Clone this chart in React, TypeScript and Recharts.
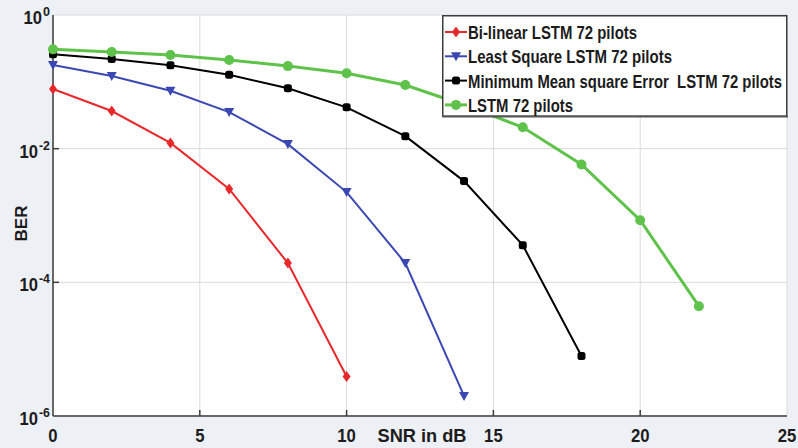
import { LineChart, Line, XAxis, YAxis, CartesianGrid, Legend } from 'recharts'

// SNR (dB) sample points
const snr = [0, 2, 4, 6, 8, 10, 12, 14, 16, 18, 20, 22]

// BER values
const bilinear = [0.078, 0.0366, 0.0122, 0.0025, 1.94e-4, 3.9e-6]
const leastSquare = [0.178, 0.122, 0.0736, 0.0353, 0.0117, 0.00224, 1.94e-4, 2e-6]
const mmse = [0.258, 0.22, 0.177, 0.128, 0.08, 0.0415, 0.0154, 0.00327, 3.6e-4, 7.9e-6]
const lstm = [0.306, 0.279, 0.252, 0.212, 0.172, 0.134, 0.0895, 0.045, 0.0209, 0.0058, 8.5e-4, 4.4e-5]

const xTicks = [0, 5, 10, 15, 20, 25]
const yTicks = [1e-6, 1e-4, 1e-2, 1]

const legendNames = [
  'Bi-linear LSTM 72 pilots',
  'Least Square LSTM 72 pilots',
  'Minimum Mean square Error  LSTM 72 pilots',
  'LSTM 72 pilots',
]
const legendWidths = [169, 204, 314, 105]

const RED = '#e8282b'
const BLUE = '#3b48b4'
const BLACK = '#000000'
const GREEN = '#5fc24a'

const FONT = "'Liberation Sans', Arial, sans-serif"
const FRAME = '#3c3c3c'
const TEXT = '#1c1c1c'

const data = snr.map((x, i) => ({
  snr: x,
  bilinear: bilinear[i],
  leastSquare: leastSquare[i],
  mmse: mmse[i],
  lstm: lstm[i],
}))

type Marker = 'diamond' | 'triangle' | 'square' | 'circle'

function markerShape(kind: Marker, cx: number, cy: number, color: string, key?: string | number) {
  if (kind === 'diamond') {
    return <polygon key={key} points={`${cx},${cy - 5.5} ${cx + 4},${cy} ${cx},${cy + 5.5} ${cx - 4},${cy}`} fill={color} />
  }
  if (kind === 'triangle') {
    return <polygon key={key} points={`${cx - 5},${cy - 4} ${cx + 5},${cy - 4} ${cx},${cy + 5}`} fill={color} />
  }
  if (kind === 'square') {
    return <rect key={key} x={cx - 4} y={cy - 4} width={8} height={8} rx={2.5} fill={color} />
  }
  return <circle key={key} cx={cx} cy={cy} r={5} fill={color} />
}

const series: { key: string; color: string; marker: Marker; width: number }[] = [
  { key: 'bilinear', color: RED, marker: 'diamond', width: 2 },
  { key: 'leastSquare', color: BLUE, marker: 'triangle', width: 2 },
  { key: 'mmse', color: BLACK, marker: 'square', width: 2 },
  { key: 'lstm', color: GREEN, marker: 'circle', width: 3 },
]

const makeDot = (kind: Marker, color: string) => (props: any) => {
  const { cx, cy, index } = props
  if (cx == null || cy == null || Number.isNaN(cy)) return <g key={index} />
  return markerShape(kind, cx, cy, color, index)
}

const BottomTick = (props: any) => {
  const { x, y, payload } = props
  const label = String(payload.value)
  const inner = payload.value !== 0 && payload.value !== 25
  return (
    <g>
      {inner && <line x1={x} y1={y} x2={x} y2={y - 6} stroke={FRAME} strokeWidth={1.5} />}
      <text
        x={x}
        y={y + 26}
        textAnchor="middle"
        fontFamily={FONT}
        fontWeight="bold"
        fontSize={19}
        fill={TEXT}
        textLength={label.length * 9.3}
        lengthAdjust="spacingAndGlyphs"
      >
        {label}
      </text>
    </g>
  )
}

const TopTick = (props: any) => {
  const { x, y, payload } = props
  if (payload.value === 0 || payload.value === 25) return <g />
  return <line x1={x} y1={y} x2={x} y2={y + 6} stroke={FRAME} strokeWidth={1.5} />
}

const LeftTick = (props: any) => {
  const { x, y, payload } = props
  const exp = String(Math.round(Math.log10(payload.value)))
  const expW = exp.length > 1 ? 11 : 7
  const inner = payload.value !== 1 && payload.value !== 1e-6
  const right = x - 3
  return (
    <g>
      {inner && <line x1={x} y1={y} x2={x + 6} y2={y} stroke={FRAME} strokeWidth={1.5} />}
      <text
        x={right - expW - 1}
        y={y + 9}
        textAnchor="end"
        fontFamily={FONT}
        fontWeight="bold"
        fontSize={19}
        fill={TEXT}
        textLength={18.5}
        lengthAdjust="spacingAndGlyphs"
      >
        10
      </text>
      <text
        x={right - expW}
        y={y + 1}
        textAnchor="start"
        fontFamily={FONT}
        fontWeight="bold"
        fontSize={12.5}
        fill={TEXT}
        textLength={expW}
        lengthAdjust="spacingAndGlyphs"
      >
        {exp}
      </text>
    </g>
  )
}

const RightTick = (props: any) => {
  const { x, y, payload } = props
  if (payload.value === 1 || payload.value === 1e-6) return <g />
  return <line x1={x} y1={y} x2={x - 6} y2={y} stroke={FRAME} strokeWidth={1.5} />
}

const LegendBox = () => (
  <svg width={346} height={103} style={{ display: 'block' }}>
    <rect x={0.75} y={0.75} width={344} height={100.5} fill="#fff" stroke={FRAME} strokeWidth={1.5} />
    <line x1={0} y1={101.5} x2={346} y2={101.5} stroke="#555" strokeWidth={2} />
    {series.map((s, i) => {
      const cy = 17 + i * 24.3
      return (
        <g key={s.key}>
          <line x1={3} y1={cy} x2={25} y2={cy} stroke={s.color} strokeWidth={s.width} />
          {markerShape(s.marker, 14, cy, s.color)}
          <text
            x={26}
            y={cy + 7}
            fontFamily={FONT}
            fontWeight="bold"
            fontSize={19}
            fill={TEXT}
            textLength={legendWidths[i]}
            lengthAdjust="spacingAndGlyphs"
            style={{ whiteSpace: 'pre' }}
          >
            {legendNames[i]}
          </text>
        </g>
      )
    })}
  </svg>
)

export default function App() {
  return (
    <div style={{ position: 'absolute', left: 0, top: 0, width: 798, height: 448, background: '#edf0f4' }}>
      <LineChart width={798} height={448} data={data} margin={{ top: 15, right: 11, bottom: 0, left: 0 }}>
        <CartesianGrid stroke="#dadada" strokeWidth={1} fill="#ffffff" />
        <XAxis
          dataKey="snr"
          type="number"
          domain={[0, 25]}
          ticks={xTicks}
          interval={0}
          height={32}
          tickSize={0}
          tickMargin={0}
          tickLine={false}
          axisLine={{ stroke: FRAME, strokeWidth: 1.5 }}
          tick={<BottomTick />}
          label={(p: any) => (
            <text
              x={p.viewBox.x + p.viewBox.width / 2 + 2}
              y={p.viewBox.y + 26}
              textAnchor="middle"
              fontFamily={FONT}
              fontWeight="bold"
              fontSize={19}
              fill={TEXT}
              textLength={89}
              lengthAdjust="spacingAndGlyphs"
            >
              SNR in dB
            </text>
          )}
        />
        <XAxis
          xAxisId="top"
          orientation="top"
          type="number"
          domain={[0, 25]}
          ticks={xTicks}
          interval={0}
          height={0}
          tickSize={0}
          tickMargin={0}
          tickLine={false}
          axisLine={{ stroke: FRAME, strokeWidth: 1.5 }}
          tick={<TopTick />}
        />
        <YAxis
          scale="log"
          type="number"
          domain={[1e-6, 1]}
          allowDataOverflow
          ticks={yTicks}
          interval={0}
          width={53}
          tickSize={0}
          tickMargin={0}
          tickLine={false}
          axisLine={{ stroke: FRAME, strokeWidth: 1.5 }}
          tick={<LeftTick />}
          label={(p: any) => (
            <text
              x={21}
              y={p.viewBox.y + p.viewBox.height / 2 + 8}
              transform={`rotate(-90 21 ${p.viewBox.y + p.viewBox.height / 2 + 8})`}
              textAnchor="middle"
              dominantBaseline="central"
              fontFamily={FONT}
              fontWeight="bold"
              fontSize={17}
              fill={TEXT}
            >
              BER
            </text>
          )}
        />
        <YAxis
          yAxisId="right"
          orientation="right"
          scale="log"
          type="number"
          domain={[1e-6, 1]}
          allowDataOverflow
          ticks={yTicks}
          interval={0}
          width={0}
          tickSize={0}
          tickMargin={0}
          tickLine={false}
          axisLine={{ stroke: FRAME, strokeWidth: 1.5 }}
          tick={<RightTick />}
        />
        <Legend
          layout="vertical"
          align="center"
          verticalAlign="middle"
          wrapperStyle={{ top: 15, left: 442, width: 346, height: 103 }}
          content={<LegendBox />}
        />
        {series.map((s) => (
          <Line
            key={s.key}
            dataKey={s.key}
            stroke={s.color}
            strokeWidth={s.width}
            dot={makeDot(s.marker, s.color)}
            activeDot={false}
            isAnimationActive={false}
          />
        ))}
      </LineChart>
    </div>
  )
}
